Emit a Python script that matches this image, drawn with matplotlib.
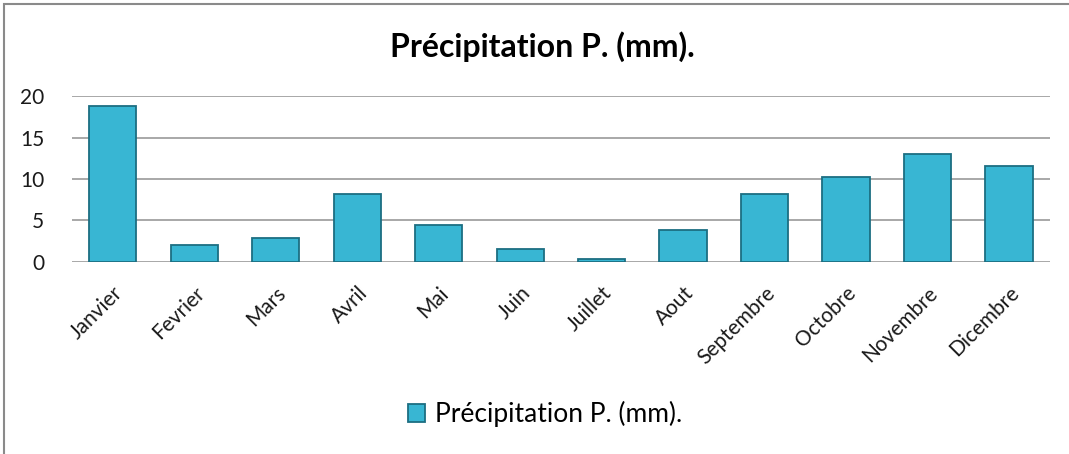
import matplotlib.pyplot as plt
from matplotlib.patches import Rectangle

months = ["Janvier", "Fevrier", "Mars", "Avril", "Mai", "Juin", "Juillet",
          "Aout", "Septembre", "Octobre", "Novembre", "Dicembre"]
precip = [18.8, 2.1, 2.9, 8.2, 4.5, 1.6, 0.3, 3.8, 8.2, 10.2, 13.0, 11.6]
yticks = [0, 5, 10, 15, 20]
title = "Précipitation P. (mm)."

plt.rcParams['font.family'] = ['Lato', 'DejaVu Sans']

fig = plt.figure(figsize=(10.69, 4.54), dpi=100)
ax = fig.add_axes([0.0674, 0.423, 0.9146, 0.3655])

x = range(len(months))
ax.bar(x, precip, width=0.58, color="#38B6D3", edgecolor="#1C6E82",
       linewidth=1.3, label=title, zorder=3)

ax.set_xlim(-0.5, len(months) - 0.5)
ax.set_ylim(0, 20)
ax.set_yticks(yticks)
ax.set_yticklabels([str(t) for t in yticks], fontsize=15)
ax.set_xticks(list(x))
ax.set_xticklabels(months, rotation=45, ha='right', rotation_mode='anchor', fontsize=15)
ax.tick_params(axis='both', length=0, colors="#1a1a1a")
ax.tick_params(axis='x', pad=15)
ax.tick_params(axis='y', pad=20)
ax.grid(axis='y', color="#9a9a9a", linewidth=1.2, zorder=0)
for s in ["top", "right", "left", "bottom"]:
    ax.spines[s].set_visible(False)

fig.text(0.507, 0.897, title, ha='center', va='center', fontsize=23, fontweight='bold')

handles, labels = ax.get_legend_handles_labels()
fig.legend(handles, labels, loc='center', bbox_to_anchor=(0.51, 0.088), frameon=False,
           fontsize=19, handlelength=0.65, handleheight=0.65, handletextpad=0.4)

# chart frame
fig.patches.append(Rectangle((4 / 1069, -0.1), 1.2, 1 - 4 / 454 + 0.1, transform=fig.transFigure,
                             fill=False, edgecolor="#8a8a8a", linewidth=1.5))

fig.savefig("out.png", dpi=100)
